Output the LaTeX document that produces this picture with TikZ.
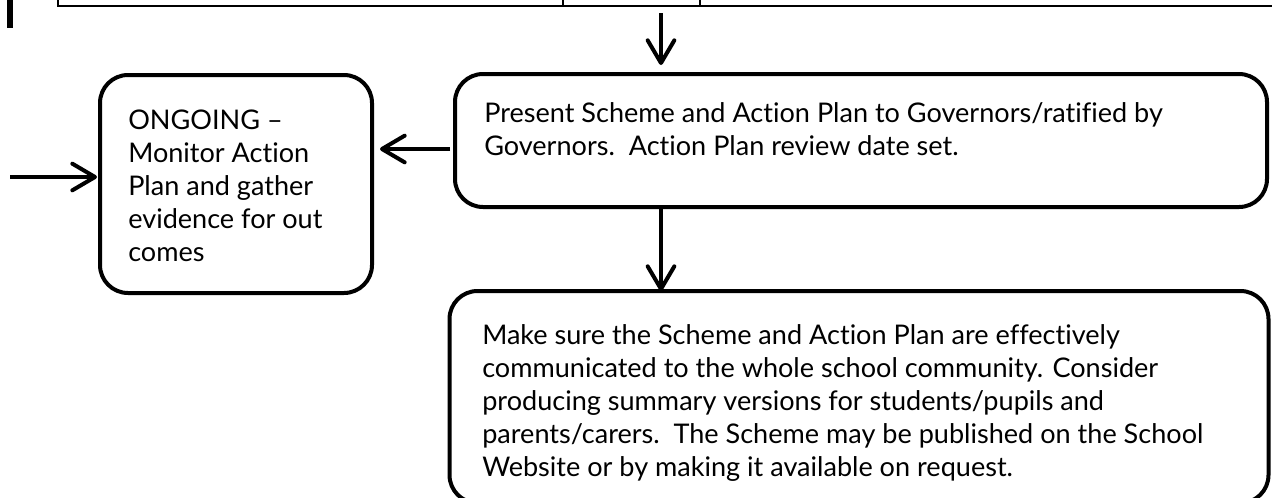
\documentclass[tikz,border=0pt]{standalone}
\usepackage{fontspec}
\setmainfont{Lato}[Ligatures=NoCommon]
\usetikzlibrary{arrows.meta}
\tikzset{
	stepbox/.style={draw, line width=3pt, rounded corners=21pt, inner sep=0pt, outer sep=0pt},
	flowarrow/.style={line width=3pt, -{Straight Barb[length=17pt,width=20pt,round]}},
	boxtext/.style={anchor=base west, inner sep=0pt, align=left, font=\fontsize{20.3}{24.75}\selectfont},
}
\begin{document}
\begin{tikzpicture}[x=0.75pt,y=0.75pt,yscale=-1]
			\useasboundingbox (0,0) rectangle (1272,497);
			
			%Straight Lines: edge of the table above
			\draw [line width=1.5pt]  (58,0) -- (58,5.5) -- (1272,5.5) ;
			\draw [line width=1.5pt]  (563,0) -- (563,5.5) (700,0) -- (700,5.5) ;
			\draw [line width=4.5pt]  (10,0) -- (10,28) ;
			
			%Shape: Rounded Rect
			\node [stepbox, minimum width=204pt, minimum height=163.5pt] (ongoing) at (236,184) {};
			%Shape: Rounded Rect
			\node [stepbox, minimum width=609pt, minimum height=99.75pt] (present) at (861,140.5) {};
			%Shape: Rounded Rect (runs past the lower edge)
			\node [stepbox, minimum width=614.25pt, minimum height=159pt] (makesure) at (859,397) {};
			
			% Text Node (anchor is the baseline of the last line)
			\node [boxtext] (ongoingtxt) at (128,261) {ONGOING –\\Monitor Action\\Plan and gather\\evidence for out\\comes};
			% Text Node
			\node [boxtext] (presenttxt) at (484,155) {Present Scheme and Action Plan to Governors/ratified by\\Governors.\ \ Action Plan review date set.};
			% Text Node, cut off at the bottom like the text box
			\begin{scope}
				\clip (450,291) rectangle (1268,482);
				\node [boxtext] (makesuretxt) at (482,476) {Make sure the Scheme and Action Plan are effectively\\communicated to the whole school community. Consider\\producing summary versions for students/pupils and\\parents/carers.\ \ The Scheme may be published on the School\\Website or by making it available on request.};
			\end{scope}
			
			%Straight Lines
			\coordinate (topin) at (661,13);
			\path (present.north -| topin) ++(0,-9) coordinate (topto);
			\draw [flowarrow]  (topin) -- (topto) ;
			%Straight Lines
			\draw [flowarrow]  (present.south -| topin) -- (makesure.north -| topin) ;
			%Straight Lines
			\path (present.west) ++(-5,8.5) coordinate (backfrom);
			\path (ongoing.east |- backfrom) ++(8,0) coordinate (backto);
			\draw [flowarrow]  (backfrom) -- (backto) ;
			%Straight Lines
			\coordinate (edgein) at (10,177);
			\path (ongoing.west |- edgein) ++(-3,0) coordinate (edgeto);
			\draw [flowarrow]  (edgein) -- (edgeto) ;
			
\end{tikzpicture}
\end{document}
